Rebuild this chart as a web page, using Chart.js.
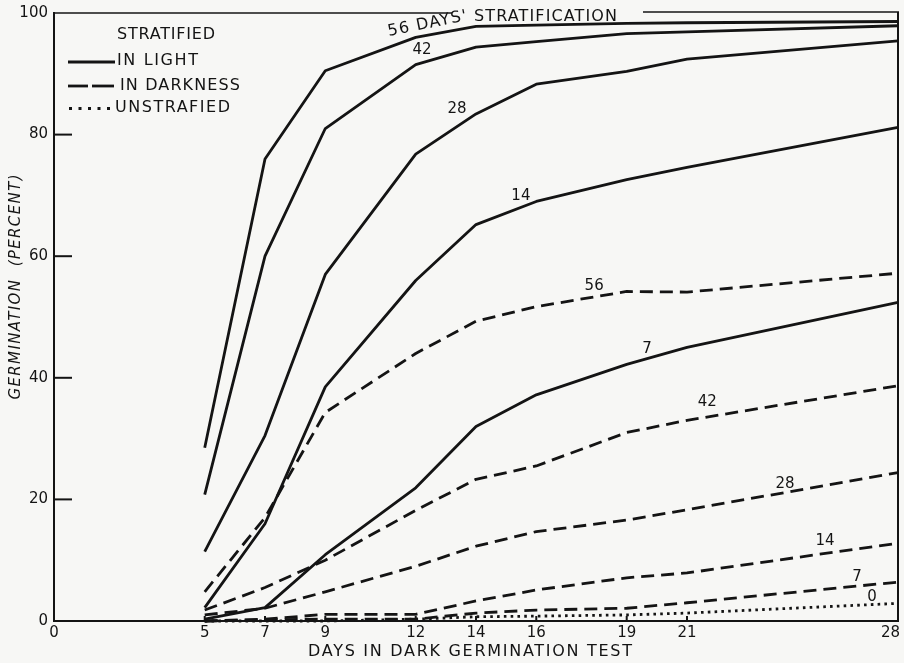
<!DOCTYPE html>
<html><head><meta charset="utf-8">
<script src="https://cdn.jsdelivr.net/npm/chart.js@4.4.0/dist/chart.umd.min.js"></script>
<style>html,body{margin:0;padding:0;background:#f7f7f5;}canvas{display:block;}</style>
</head><body>
<canvas id="c" width="904" height="663"></canvas>
<script>
// ---- data ----
const days = [5, 7, 9, 12, 14, 16, 19, 21, 28];
const xTicks = [0, 5, 7, 9, 12, 14, 16, 19, 21, 28];
const yTicks = [0, 20, 40, 60, 80, 100];

// stratified, germinated in light (solid)
const light56 = [28.5, 76, 90.5, 96, 97.8, 98.0, 98.3, 98.4, 98.6];
const light42 = [20.8, 60, 81, 91.5, 94.4, 95.3, 96.6, 96.9, 97.9];
const light28 = [11.4, 30.5, 57, 76.8, 83.4, 88.3, 90.4, 92.4, 95.4];
const light14 = [2.2, 16, 38.5, 56, 65.2, 69, 72.6, 74.6, 81.2];
const light7  = [0.3, 2.2, 10.9, 21.9, 32, 37.2, 42.2, 45, 52.4];
// stratified, germinated in darkness (dashed)
const dark56 = [4.8, 17, 34.3, 44, 49.3, 51.7, 54.2, 54.1, 57.2];
const dark42 = [1.8, 5.5, 10, 18.2, 23.3, 25.5, 31, 33, 38.7];
const dark28 = [1.0, 2.1, 4.8, 9, 12.3, 14.7, 16.6, 18.3, 24.4];
const dark14 = [0, 0.3, 1.1, 1.1, 3.3, 5.1, 7.1, 7.9, 12.8];
const dark7  = [0, 0.2, 0.3, 0.3, 1.3, 1.8, 2.1, 3.0, 6.4];
// unstratified (dotted)
const unstrat = [0, 0, 0, 0.3, 0.7, 0.8, 1.0, 1.3, 2.9];

const curveLabelText = ['42', '28', '14', '56', '7', '42', '28', '14', '7', '0'];
const curveLabelDay  = [12.21, 13.37, 15.49, 17.92, 19.67, 21.67, 24.25, 25.58, 26.64, 27.14];
const curveLabelPct  = [93.9, 84.2, 69.9, 55.1, 44.7, 36.0, 22.5, 13.2, 7.2, 3.9];

// ---- chart ----
const INK = '#141414';
const FONT = "'DejaVu Sans', sans-serif";
const SOLID = [], DASH = [13, 7], DOT = [2.6, 4.2];

function series(vals, dash) {
  return {
    data: days.map((d, i) => ({ x: d, y: vals[i] })),
    borderColor: INK, borderWidth: 2.8, borderDash: dash,
    borderCapStyle: 'butt', borderJoinStyle: 'round',
    pointRadius: 0, tension: 0, fill: false, clip: false
  };
}

function spaced(ctx, text, x, y, font, width, align) {
  ctx.font = font;
  ctx.letterSpacing = '0px';
  const n = text.length;
  const w0 = ctx.measureText(text).width;
  const ls = width ? (width - w0) / Math.max(1, n - 1) : 0;
  ctx.letterSpacing = ls + 'px';
  ctx.textAlign = 'left';
  ctx.textBaseline = 'middle';
  let sx = x;
  if (align === 'center') sx = x - (w0 + ls * (n - 1)) / 2;
  ctx.fillText(text, sx, y);
  ctx.letterSpacing = '0px';
}

function seg(ctx, x1, y1, x2, y2) {
  ctx.beginPath(); ctx.moveTo(x1, y1); ctx.lineTo(x2, y2); ctx.stroke();
}

const decor = {
  id: 'decor',
  beforeDraw(chart) {
    const ctx = chart.ctx;
    ctx.save(); ctx.fillStyle = '#f7f7f5';
    ctx.fillRect(0, 0, chart.width, chart.height); ctx.restore();
  },
  afterDraw(chart) {
    const ctx = chart.ctx;
    const { left, right, top, bottom } = chart.chartArea;
    const xs = chart.scales.x, ys = chart.scales.y;
    ctx.save();
    ctx.strokeStyle = INK; ctx.fillStyle = INK; ctx.lineWidth = 2;
    // frame: right side and broken top
    seg(ctx, right, top - 1, right, bottom);
    ctx.lineWidth = 1.6;
    seg(ctx, left, top, 452, top);
    seg(ctx, 643, top - 1, right + 1, top - 1);
    ctx.lineWidth = 2;
    // inward tick marks
    yTicks.filter(v => v > 0 && v < 100).forEach(v => {
      const y = ys.getPixelForValue(v); seg(ctx, left, y, left + 18, y);
    });
    xTicks.filter(v => v > 0 && v < 28).forEach(v => {
      const x = xs.getPixelForValue(v); seg(ctx, x, bottom, x, bottom - 5);
    });
    // legend
    spaced(ctx, 'STRATIFIED', 117, 35, '16px ' + FONT, 98);
    ctx.lineWidth = 2.8;
    seg(ctx, 68, 62, 115, 62);
    spaced(ctx, 'IN LIGHT', 117, 61, '16px ' + FONT, 81);
    seg(ctx, 68, 86, 88, 86); seg(ctx, 92, 86, 114, 86);
    spaced(ctx, 'IN DARKNESS', 120, 86, '16px ' + FONT, 120);
    for (let i = 0; i < 5; i++) { ctx.fillRect(69 + i * 9.5, 107, 3, 3); }
    spaced(ctx, 'UNSTRAFIED', 115, 108, '16px ' + FONT, 115);
    // 56 DAYS' STRATIFICATION
    ctx.save();
    ctx.translate(388, 32);
    ctx.rotate(-0.2);
    spaced(ctx, "56 DAYS'", 0, 0, '16px ' + FONT, 80);
    ctx.restore();
    spaced(ctx, 'STRATIFICATION', 474, 17, '16px ' + FONT, 143);
    // curve labels
    ctx.font = '15px ' + FONT; ctx.textAlign = 'center'; ctx.textBaseline = 'middle';
    curveLabelText.forEach((t, i) => {
      ctx.fillText(t, xs.getPixelForValue(curveLabelDay[i]), ys.getPixelForValue(curveLabelPct[i]));
    });
    // axis titles
    spaced(ctx, 'DAYS IN DARK GERMINATION TEST', 470, 652, '16px ' + FONT, 324, 'center');
    ctx.save();
    ctx.translate(16, 287);
    ctx.rotate(-Math.PI / 2);
    spaced(ctx, 'GERMINATION  (PERCENT)', 0, 0, 'italic 15px ' + FONT, 225, 'center');
    ctx.restore();
    ctx.restore();
  }
};

new Chart(document.getElementById('c'), {
  type: 'line',
  data: {
    datasets: [
      series(light56, SOLID), series(light42, SOLID), series(light28, SOLID),
      series(light14, SOLID), series(light7, SOLID),
      series(dark56, DASH), series(dark42, DASH), series(dark28, DASH),
      series(dark14, DASH), series(dark7, DASH),
      series(unstrat, DOT)
    ]
  },
  options: {
    responsive: false, animation: false, devicePixelRatio: 1,
    layout: { padding: { top: 13, right: 6, left: 0, bottom: 0 } },
    plugins: { legend: { display: false }, tooltip: { enabled: false } },
    scales: {
      x: {
        type: 'linear', min: 0, max: 28,
        afterBuildTicks: s => { s.ticks = xTicks.map(v => ({ value: v })); },
        ticks: {
          font: { family: FONT, size: 15 }, color: INK, padding: 3, autoSkip: false, maxRotation: 0,
          callback: v => (v === 28 ? '28\u2003' : String(v))
        },
        grid: { display: false, drawTicks: false },
        border: { display: true, color: INK, width: 2 },
        afterFit: s => { s.height = 42; s.paddingLeft = 0; s.paddingRight = 0; }
      },
      y: {
        min: 0, max: 100,
        afterBuildTicks: s => { s.ticks = yTicks.map(v => ({ value: v })); },
        ticks: { font: { family: FONT, size: 15 }, color: INK, padding: 6 },
        grid: { display: false, drawTicks: false },
        border: { display: true, color: INK, width: 2 },
        afterFit: s => { s.width = 54; s.paddingTop = 0; s.paddingBottom = 0; }
      }
    }
  },
  plugins: [decor]
});
</script>
</body></html>
